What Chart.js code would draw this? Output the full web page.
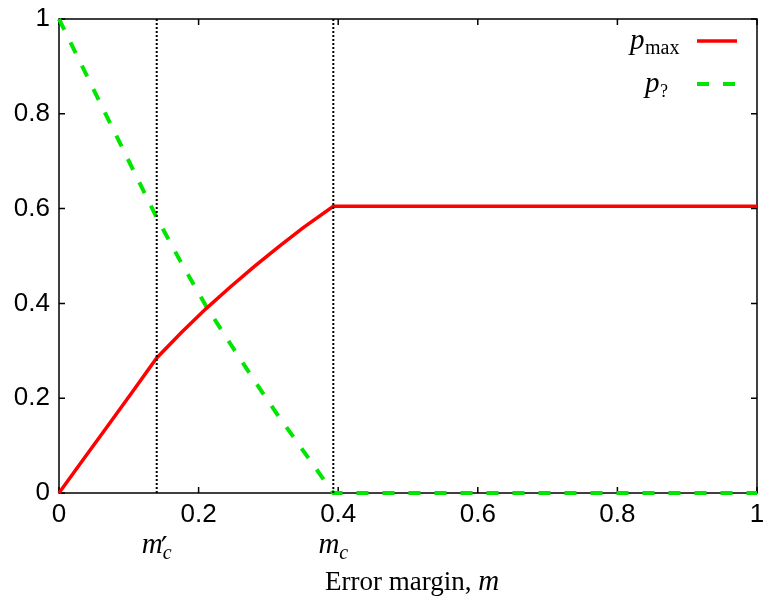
<!DOCTYPE html>
<html lang="en">
  <head>
    <meta charset="UTF-8" />
    <title>Error margin</title>
    <script src="https://cdn.jsdelivr.net/npm/chart.js@4"></script>
    <style>
      body { margin: 0; background: #fff; }
      #wrap { width: 764px; height: 603px; }
    </style>
  </head>
  <body>
    <div id="wrap"><canvas id="grafico"></canvas></div>
  </body>
</html>

<script>
  // valores
  const mMax = [0, 0.035, 0.07, 0.105, 0.14, 0.175, 0.21, 0.245, 0.28, 0.315, 0.35, 0.393, 1];
  const pMax = [0, 0.071, 0.142, 0.213, 0.285, 0.338, 0.388, 0.434, 0.478, 0.52, 0.56, 0.605, 0.605];

  const mInc = [0, 0.07, 0.14, 0.175, 0.21, 0.245, 0.28, 0.315, 0.35, 0.393, 1];
  const pInc = [1, 0.79, 0.581, 0.486, 0.396, 0.316, 0.237, 0.161, 0.089, 0, 0];

  // linhas verticais m'_c e m_c
  const marcas = [0.14, 0.393];
  const marcasTexto = [["m", "′", "c"], ["m", "", "c"]];

  const xTicks = [0, 0.2, 0.4, 0.6, 0.8, 1];
  const yTicks = [0, 0.2, 0.4, 0.6, 0.8, 1];
  const xTickLabels = ["0", "0.2", "0.4", "0.6", "0.8", "1"];
  const yTickLabels = ["0", "0.2", "0.4", "0.6", "0.8", "1"];

  const serif = "'Liberation Serif', 'DejaVu Serif', serif";
  const sans = "'Liberation Sans', Arial, sans-serif";

  function pontos(xs, ys) {
    return xs.map((x, i) => ({ x: x, y: ys[i] }));
  }

  const datasets = [];
  marcas.forEach((m) => {
    datasets.push({
      data: [{ x: m, y: 0 }, { x: m, y: 1 }],
      borderColor: "#000",
      borderWidth: 2,
      borderDash: [2, 2],
      pointRadius: 0,
      clip: false,
    });
  });
  datasets.push({
    data: pontos(mMax, pMax),
    borderColor: "#ff0000",
    borderWidth: 3.5,
    pointRadius: 0,
    clip: false,
  });
  datasets.push({
    data: pontos(mInc, pInc),
    borderColor: "#00e600",
    borderWidth: 4,
    borderDash: [12, 14],
    pointRadius: 0,
    clip: false,
  });

  // moldura, ticks para dentro, legenda e textos em itálico
  const extras = {
    id: "extras",
    beforeDatasetsDraw(chart) {
      const ctx = chart.ctx;
      const a = chart.chartArea;
      const x = chart.scales.x;
      const y = chart.scales.y;
      ctx.save();
      ctx.strokeStyle = "#000";
      ctx.lineWidth = 1.5;
      ctx.strokeRect(a.left, a.top, a.right - a.left, a.bottom - a.top);
      ctx.beginPath();
      xTicks.forEach((v) => {
        const px = x.getPixelForValue(v);
        ctx.moveTo(px, a.bottom);
        ctx.lineTo(px, a.bottom - 6);
        ctx.moveTo(px, a.top);
        ctx.lineTo(px, a.top + 6);
      });
      yTicks.forEach((v) => {
        const py = y.getPixelForValue(v);
        ctx.moveTo(a.left, py);
        ctx.lineTo(a.left + 6, py);
        ctx.moveTo(a.right, py);
        ctx.lineTo(a.right - 6, py);
      });
      ctx.stroke();
      ctx.restore();
    },
    afterDraw(chart) {
      const ctx = chart.ctx;
      const x = chart.scales.x;
      ctx.save();
      ctx.fillStyle = "#000";
      ctx.textBaseline = "alphabetic";
      ctx.textAlign = "left";

      // m'_c e m_c
      marcas.forEach((m, i) => {
        const t = marcasTexto[i];
        const px = x.getPixelForValue(m);
        ctx.font = "italic 29px " + serif;
        const w1 = ctx.measureText(t[0]).width;
        ctx.font = "italic 20px " + serif;
        const w3 = ctx.measureText(t[2]).width;
        const sx = px - (w1 + w3) / 2;
        ctx.font = "italic 29px " + serif;
        ctx.fillText(t[0], sx, 553);
        if (t[1]) {
          ctx.font = "30px 'DejaVu Sans', sans-serif";
          ctx.fillText(t[1], sx + w1 - 2, 558);
        }
        ctx.font = "italic 20px " + serif;
        ctx.fillText(t[2], sx + w1, 559);
      });

      // título do eixo x
      ctx.font = "27px " + serif;
      const tA = "Error margin, ";
      const wA = ctx.measureText(tA).width;
      ctx.font = "italic 29px " + serif;
      const wB = ctx.measureText("m").width;
      const sx = 412 - (wA + wB) / 2;
      ctx.font = "27px " + serif;
      ctx.fillText(tA, sx, 590);
      ctx.font = "italic 29px " + serif;
      ctx.fillText("m", sx + wA, 590);

      // legenda
      ctx.font = "italic 29px " + serif;
      ctx.fillText("p", 630, 49);
      ctx.font = "20px " + serif;
      ctx.fillText("max", 645, 54);
      ctx.font = "italic 29px " + serif;
      ctx.fillText("p", 645, 92);
      ctx.font = "18px " + serif;
      ctx.fillText("?", 660, 97);

      ctx.lineWidth = 3.5;
      ctx.strokeStyle = "#ff0000";
      ctx.beginPath();
      ctx.moveTo(697, 41);
      ctx.lineTo(737, 41);
      ctx.stroke();
      ctx.lineWidth = 4;
      ctx.strokeStyle = "#00e600";
      ctx.setLineDash([12, 14]);
      ctx.beginPath();
      ctx.moveTo(697, 84);
      ctx.lineTo(737, 84);
      ctx.stroke();
      ctx.restore();
    },
  };

  new Chart(document.getElementById("grafico"), {
    type: "line",
    data: { datasets: datasets },
    options: {
      responsive: true,
      maintainAspectRatio: false,
      animation: false,
      layout: { padding: { top: 19, right: 7, left: 0, bottom: 0 } },
      plugins: { legend: { display: false }, tooltip: { enabled: false } },
      scales: {
        x: {
          type: "linear",
          min: 0,
          max: 1,
          afterBuildTicks: (s) => { s.ticks = xTicks.map((v) => ({ value: v })); },
          afterFit: (s) => { s.height = 110; s.paddingRight = 0; s.paddingLeft = 0; },
          grid: { display: false, drawTicks: false },
          border: { display: false },
          ticks: {
            padding: 6,
            color: "#000",
            font: { family: sans, size: 26 },
            maxRotation: 0,
            callback: (v, i) => xTickLabels[i],
          },
        },
        y: {
          type: "linear",
          min: 0,
          max: 1,
          afterBuildTicks: (s) => { s.ticks = yTicks.map((v) => ({ value: v })); },
          afterFit: (s) => { s.width = 59; s.paddingTop = 0; s.paddingBottom = 0; },
          grid: { display: false, drawTicks: false },
          border: { display: false },
          ticks: {
            padding: 9,
            color: "#000",
            font: { family: sans, size: 26 },
            callback: (v, i) => yTickLabels[i],
          },
        },
      },
    },
    plugins: [extras],
  });
</script>
